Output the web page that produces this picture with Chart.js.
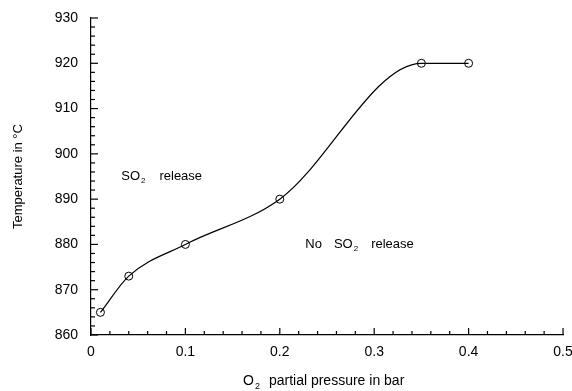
<!DOCTYPE html>
<html>
<head>
<meta charset="utf-8">
<script src="https://cdn.jsdelivr.net/npm/chart.js@4/dist/chart.umd.min.js"></script>
<style>
  html, body { margin: 0; padding: 0; background: #fff; }
  #wrap { width: 572px; height: 391px; }
</style>
</head>
<body>
<div id="wrap"><canvas id="chart" width="572" height="391"></canvas></div>
<script>
// O2 partial pressure vs SO2 release temperature

const pressure = [0.01, 0.04, 0.1, 0.2, 0.35, 0.4];
const temperature = [865, 873, 880, 890, 920, 920];

const xTicks = [0, 0.1, 0.2, 0.3, 0.4, 0.5];
const xTickLabels = ['0', '0.1', '0.2', '0.3', '0.4', '0.5'];
const yTicks = [860, 870, 880, 890, 900, 910, 920, 930];
const yTickLabels = ['860', '870', '880', '890', '900', '910', '920', '930'];

const FONT = '"Liberation Sans", Arial, sans-serif';

// draw text with subscript pieces: [[text, isSub, gapAfter], ...]
function drawParts(ctx, parts, x, y, size) {
  let cx = x;
  parts.forEach(([txt, sub, gap]) => {
    const s = sub ? Math.round(size * 0.62) : size;
    ctx.font = s + 'px ' + FONT;
    ctx.fillText(txt, cx, sub ? y + size * 0.4 : y);
    cx += ctx.measureText(txt).width + (gap || 0);
  });
  return cx - x;
}

const decorations = {
  id: 'decorations',
  afterDraw(chart) {
    const ctx = chart.ctx;
    const xs = chart.scales.x;
    const ys = chart.scales.y;
    const area = chart.chartArea;
    ctx.save();
    ctx.strokeStyle = '#000';
    ctx.lineWidth = 1.2;

    // inward ticks on the x axis
    for (let i = 0; i <= 25; i++) {
      const px = xs.getPixelForValue(i * 0.02);
      const len = i % 5 === 0 ? 7 : 4;
      ctx.beginPath();
      ctx.moveTo(px, area.bottom);
      ctx.lineTo(px, area.bottom - len);
      ctx.stroke();
    }
    // inward ticks on the y axis
    for (let i = 0; i <= 35; i++) {
      const py = ys.getPixelForValue(860 + i * 2);
      const len = i % 5 === 0 ? 7 : 4;
      ctx.beginPath();
      ctx.moveTo(area.left, py);
      ctx.lineTo(area.left + len, py);
      ctx.stroke();
    }

    ctx.fillStyle = '#000';
    ctx.textBaseline = 'middle';
    ctx.textAlign = 'left';

    // region labels
    const size = 13;
    drawParts(ctx, [['SO', false, 1], ['2', true, 14], ['release', false]],
      xs.getPixelForValue(0.032), ys.getPixelForValue(895.1), size);
    drawParts(ctx, [['No', false, 12], ['SO', false, 1], ['2', true, 13], ['release', false]],
      xs.getPixelForValue(0.227), ys.getPixelForValue(880.1), size);

    // x axis title
    drawParts(ctx, [['O', false, 1], ['2', true, 9], ['partial pressure in bar', false]],
      243, 381, 14);

    ctx.restore();
  }
};

new Chart(document.getElementById('chart'), {
  type: 'scatter',
  data: {
    datasets: [{
      data: pressure.map((p, i) => ({ x: p, y: temperature[i] })),
      showLine: true,
      borderColor: '#000',
      borderWidth: 1.2,
      cubicInterpolationMode: 'monotone',
      pointRadius: 4,
      pointBorderWidth: 1,
      pointBorderColor: '#000',
      pointBackgroundColor: 'rgba(0,0,0,0)'
    }]
  },
  options: {
    responsive: false,
    animation: false,
    layout: { padding: { left: 0, right: 9, top: 18, bottom: 0 } },
    plugins: {
      legend: { display: false },
      tooltip: { enabled: false }
    },
    scales: {
      x: {
        type: 'linear',
        min: 0,
        max: 0.5,
        afterFit: (scale) => {
          scale.height = 56;
          scale.paddingRight = 0;
          scale.paddingLeft = 0;
        },
        afterBuildTicks: (scale) => { scale.ticks = xTicks.map(v => ({ value: v })); },
        grid: { display: false, drawTicks: false },
        border: { display: true, color: '#000', width: 1.2 },
        ticks: {
          autoSkip: false,
          maxRotation: 0,
          padding: 9,
          color: '#000',
          font: { family: FONT, size: 14 },
          callback: (v) => xTickLabels[xTicks.indexOf(v)]
        }
      },
      y: {
        type: 'linear',
        min: 860,
        max: 930,
        afterFit: (scale) => {
          scale.width = 91;
          scale.paddingTop = 0;
          scale.paddingBottom = 0;
        },
        afterBuildTicks: (scale) => { scale.ticks = yTicks.map(v => ({ value: v })); },
        grid: { display: false, drawTicks: false },
        border: { display: true, color: '#000', width: 1.2 },
        title: {
          display: true,
          text: 'Temperature in \u00B0C',
          color: '#000',
          font: { family: FONT, size: 13 },
          padding: { top: 11, bottom: 0 }
        },
        ticks: {
          autoSkip: false,
          padding: 13,
          color: '#000',
          font: { family: FONT, size: 14 },
          callback: (v) => yTickLabels[yTicks.indexOf(v)]
        }
      }
    }
  },
  plugins: [decorations]
});
</script>
</body>
</html>
